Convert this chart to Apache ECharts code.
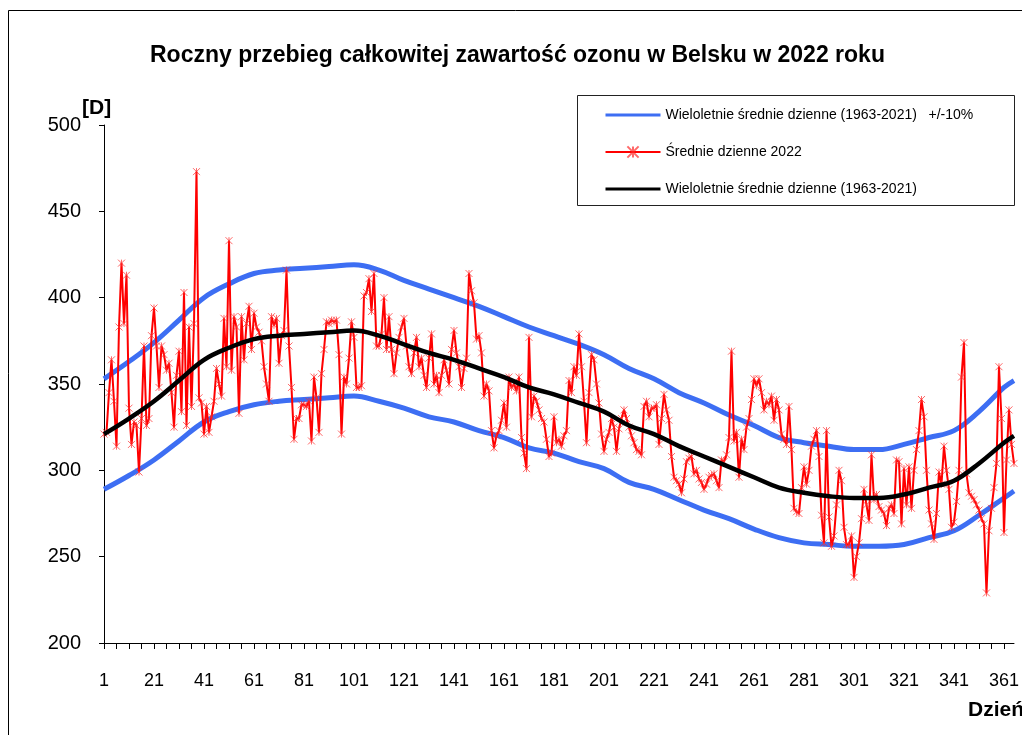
<!DOCTYPE html>
<html>
<head>
<meta charset="utf-8">
<script src="https://cdn.jsdelivr.net/npm/echarts@6/dist/echarts.min.js"></script>
<style>
html,body{margin:0;padding:0;background:#fff;}
#chart{width:1022px;height:735px;}
</style>
</head>
<body>
<div id="chart"></div>
<script>
// dzienne wartosci 2022, dzien 1..365
var ozone2022=[
321,322,345,364,340,314,383,420,385,413,
336,315,328,326,299,330,372,326,330,378,
394,372,348,372,367,358,362,345,325,355,
369,334,403,326,383,337,385,473,342,339,
321,337,322,331,340,359,350,343,388,360,
433,358,389,383,333,389,364,385,395,370,
391,383,380,375,360,350,340,389,384,388,
362,378,381,416,372,348,318,330,330,338,
338,337,340,317,354,342,322,356,370,386,
385,387,386,387,367,321,354,350,365,386,
377,348,348,349,401,403,411,392,414,372,
372,379,400,370,389,370,356,368,377,383,
388,372,360,356,368,377,360,365,355,348,
365,379,350,355,345,355,364,358,350,370,
381,368,360,348,359,365,414,404,397,376,
378,368,343,350,346,323,313,320,323,329,
339,325,354,348,350,346,354,319,310,301,
377,331,343,340,335,330,328,318,308,310,
331,316,318,314,320,323,352,345,360,355,
379,360,340,316,345,367,364,350,339,321,
311,318,322,330,325,311,324,330,335,330,
325,320,316,312,311,309,337,340,331,336,
336,338,315,330,344,335,329,308,296,294,
292,287,295,305,307,308,298,300,295,293,
289,292,296,297,298,294,290,306,305,309,
319,369,317,322,296,318,312,325,330,341,
353,349,353,345,335,340,338,343,329,341,
335,321,318,315,337,312,278,276,275,290,
302,292,300,314,318,323,308,274,258,323,
273,256,262,280,300,294,267,257,257,262,
238,250,258,272,289,280,271,309,283,286,
279,277,275,268,278,280,275,306,305,269,
301,280,302,278,300,312,323,341,331,300,
277,269,260,275,299,292,314,300,289,267,
270,282,300,354,374,298,287,285,283,280,
277,272,269,229,265,278,290,304,360,330,
264,306,335,315,304
];

// wieloletnie srednie (1963-2021) - punkty co 10 dni
var meanDays=[1,11,21,31,41,51,61,71,81,91,101,111,121,131,141,151,161,171,181,191,201,211,221,231,241,251,261,271,281,291,301,311,321,331,341,351,361,365];
var meanVals=[321,330,340,352,364,371,376,378,379,380,381,378,373,368,364,359,354,348,344,339,334,326,321,314,308,302,296,290,287,285,284,284,286,290,294,304,316,320];
var upperVals=[353,363,374,387,400,408,414,416,417,418,419,416,410,405,400,395,389,383,378,373,367,359,353,345,339,332,326,319,316,314,312,312,315,319,323,334,348,352];
var lowerVals=[289,297,306,317,328,334,338,340,341,342,343,340,336,331,328,323,319,313,310,305,301,293,289,283,277,272,266,261,258,257,256,256,257,261,265,274,284,288];

var yTicks=[200,250,300,350,400,450,500];

var nameBand='Wieloletnie średnie dzienne (1963-2021)   +/-10%';
var nameDay='Średnie dzienne 2022';
var nameMean='Wieloletnie średnie dzienne (1963-2021)';

var FONT='"Liberation Sans", Arial, sans-serif';
var BLUE='#3d6ef3';

function pairs(days,vals){
    var out=[];
    for(var i=0;i<days.length;i++){
        out.push([days[i]-1,vals[i]]);
    }
    return out;
}
var dayData=ozone2022.map(function(v,i){return [i,v];});

var myChart=echarts.init(document.getElementById('chart'));

var option={
    animation:false,
    backgroundColor:'#fff',
    textStyle:{fontFamily:FONT},
    title:{
        text:'Roczny przebieg całkowitej zawartość ozonu w Belsku w 2022 roku',
        left:150,
        top:44,
        padding:0,
        textStyle:{fontFamily:FONT,fontSize:23,fontWeight:'bold',color:'#000'}
    },
    legend:{
        orient:'vertical',
        left:604,
        top:108,
        padding:0,
        itemWidth:55,
        itemHeight:14,
        itemGap:23,
        textStyle:{fontFamily:FONT,fontSize:14,color:'#000'},
        data:[
            {name:nameBand,itemStyle:{opacity:0},lineStyle:{width:3}},
            {name:nameDay,lineStyle:{width:2}},
            {name:nameMean,itemStyle:{opacity:0},lineStyle:{width:3}}
        ]
    },
    grid:{left:104,right:4,top:125,bottom:92,containLabel:false},
    xAxis:{
        type:'value',
        min:0,
        max:364,
        interval:5,
        axisLine:{show:true,lineStyle:{color:'#000',width:1}},
        axisTick:{show:true,length:6,lineStyle:{color:'#000'}},
        splitLine:{show:false},
        axisLabel:{
            fontFamily:FONT,fontSize:18,color:'#000',margin:29,
            showMaxLabel:false,
            formatter:function(v){return v%20===0?String(v+1):'';}
        }
    },
    yAxis:{
        type:'value',
        min:yTicks[0],
        max:yTicks[yTicks.length-1],
        interval:50,
        axisLine:{show:true,lineStyle:{color:'#000',width:1}},
        axisTick:{show:true,length:5,lineStyle:{color:'#000'}},
        splitLine:{show:false},
        axisLabel:{fontFamily:FONT,fontSize:20,color:'#000',margin:23}
    },
    graphic:[
        {type:'rect',shape:{x:8.5,y:10.5,width:1100,height:800},style:{fill:'none',stroke:'#000',lineWidth:1},silent:true},
        {type:'rect',shape:{x:577.5,y:95.5,width:437,height:110},style:{fill:'#fff',stroke:'#222',lineWidth:1},silent:true,z:-1},
        {type:'text',left:82,top:98,style:{text:'[D]',font:'bold 21px '+FONT,fill:'#000'}},
        {type:'text',left:968,top:700,style:{text:'Dzień',font:'bold 21px '+FONT,fill:'#000'}}
    ],
    series:[
        {
            name:nameBand,type:'line',data:pairs(meanDays,upperVals),
            smooth:0.4,symbol:'none',lineStyle:{color:BLUE,width:5},itemStyle:{color:BLUE},z:2
        },
        {
            name:nameBand,type:'line',data:pairs(meanDays,lowerVals),
            smooth:0.4,symbol:'none',lineStyle:{color:BLUE,width:5},itemStyle:{color:BLUE},z:2
        },
        {
            name:nameDay,type:'line',data:dayData,
            symbol:'path://M0,0L10,10M10,0L0,10M5,0L5,10',symbolSize:7,
            lineStyle:{color:'#ff0000',width:2},
            itemStyle:{color:'#ff0000',borderColor:'rgba(255,40,40,0.7)',borderWidth:1},
            z:3
        },
        {
            name:nameMean,type:'line',data:pairs(meanDays,meanVals),
            smooth:0.4,symbol:'none',lineStyle:{color:'#000',width:4.5},itemStyle:{color:'#000'},z:4
        }
    ]
};
myChart.setOption(option);
</script>
</body>
</html>
